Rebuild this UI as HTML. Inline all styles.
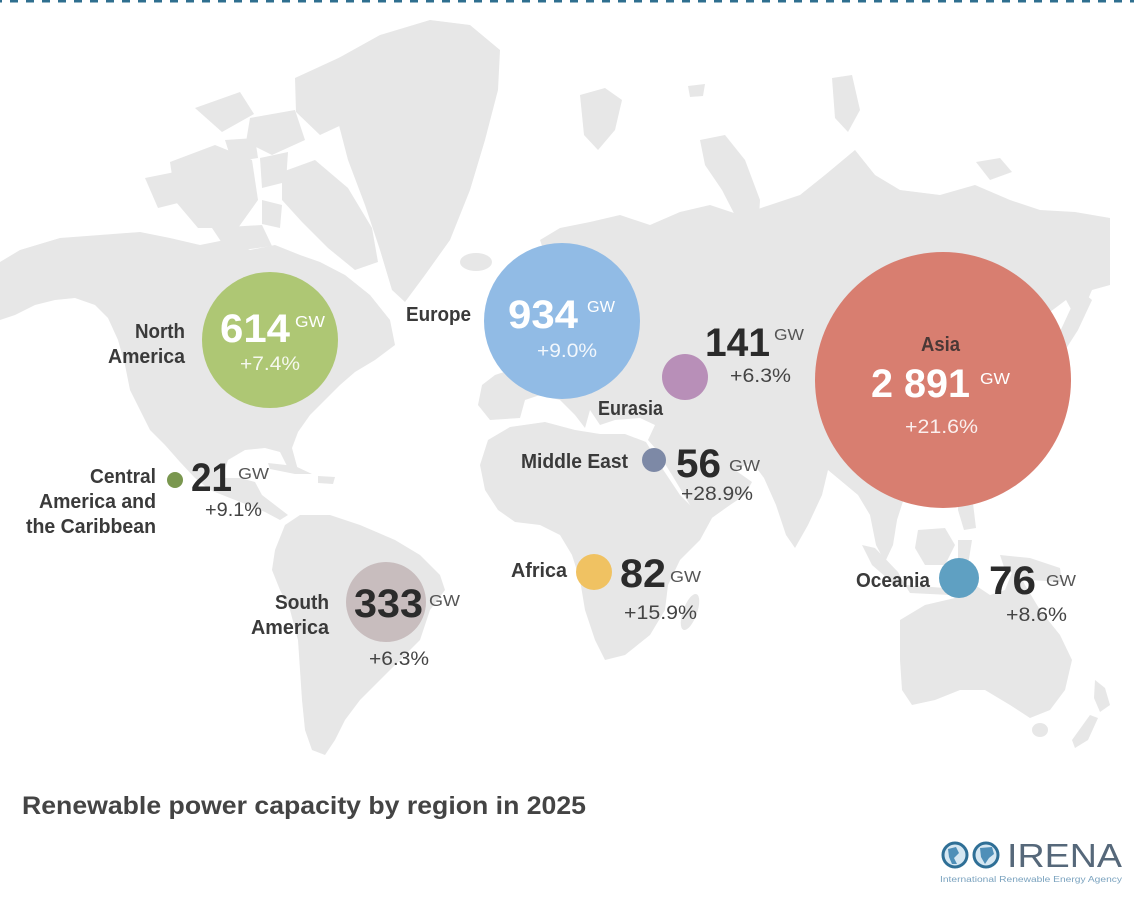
<!DOCTYPE html>
<html>
<head>
<meta charset="utf-8">
<style>
html,body{margin:0;padding:0;background:#fff;}
body{width:1134px;height:916px;overflow:hidden;}
svg{display:block;}
text{font-family:"Liberation Sans",Arial,sans-serif;}
.lbl{font-weight:bold;font-size:20px;fill:#3a3a3a;}
.num{font-weight:bold;font-size:40px;fill:#2b2b2b;}
.gw{font-size:16px;fill:#555;}
.pct{font-size:19px;fill:#444;}
.w{fill:#fff;}
.wp{fill:#fff;fill-opacity:0.88;}
</style>
</head>
<body>
<svg width="1134" height="916" viewBox="0 0 1134 916" xmlns="http://www.w3.org/2000/svg">
<rect width="1134" height="916" fill="#fff"/>
<line x1="0" y1="1" x2="1134" y2="1" stroke="#2f6f8f" stroke-width="3" stroke-dasharray="8 8" stroke-dashoffset="6"/>

<g fill="#e7e7e7">
  <!-- North America -->
  <path d="M0,262 L20,250 L60,238 L100,235 L140,232 L170,238 L200,245 L225,240 L250,250 L275,245 L300,255 L320,262 L345,275 L370,295 L390,320 L395,345 L375,360 L355,372 L340,385 L325,400 L310,415 L298,432 L292,448 L298,470 L290,472 L280,452 L265,448 L245,450 L228,460 L222,478 L240,478 L255,482 L262,495 L275,505 L288,515 L280,520 L265,512 L248,505 L230,498 L210,490 L195,478 L180,462 L165,445 L150,430 L140,410 L130,390 L125,365 L118,340 L108,318 L95,305 L75,298 L55,300 L35,305 L15,315 L0,320 Z"/>
  <!-- Arctic archipelago -->
  <path d="M295,78 L345,55 L390,40 L412,45 L398,72 L368,98 L348,122 L320,135 L296,112 Z"/>
  <path d="M282,172 L315,160 L348,188 L372,228 L378,262 L355,270 L328,248 L302,222 L282,200 Z"/>
  <path d="M170,162 L215,145 L252,160 L258,200 L238,228 L198,228 L176,202 Z"/>
  <path d="M250,118 L295,110 L305,140 L272,155 L246,142 Z"/>
  <path d="M195,108 L240,92 L254,114 L222,132 Z"/>
  <path d="M145,178 L175,172 L182,202 L158,208 Z"/>
  <path d="M260,158 L288,152 L286,182 L262,188 Z"/>
  <path d="M212,228 L262,225 L272,246 L228,252 Z"/>
  <path d="M225,140 L255,138 L258,158 L232,162 Z"/>
  <path d="M262,200 L282,205 L280,228 L262,224 Z"/>
  <!-- Greenland -->
  <path d="M335,60 L380,35 L430,20 L470,25 L500,50 L498,90 L485,140 L470,190 L450,240 L425,275 L405,302 L392,290 L380,250 L365,205 L348,160 L335,110 Z"/>
  <!-- Iceland -->
  <ellipse cx="476" cy="262" rx="16" ry="9"/>
  <!-- Caribbean -->
  <path d="M268,463 L295,466 L312,474 L295,474 L270,469 Z"/>
  <path d="M318,476 L335,477 L333,484 L318,483 Z"/>
  <!-- South America -->
  <path d="M285,525 L300,515 L330,515 L360,525 L395,540 L420,555 L440,575 L445,590 L430,610 L420,640 L400,660 L380,680 L360,700 L345,720 L335,740 L325,755 L312,750 L305,730 L302,700 L300,670 L298,640 L290,610 L280,590 L272,570 L275,550 Z"/>
  <!-- Eurasia -->
  <path d="M540,240 L560,228 L590,222 L620,215 L650,225 L680,212 L710,205 L740,215 L770,205 L800,195 L825,175 L855,150 L875,175 L900,190 L940,195 L975,185 L1010,200 L1040,210 L1075,212 L1110,218 L1110,285 L1092,290 L1078,322 L1066,300 L1050,312 L1058,340 L1050,380 L1040,420 L1010,450 L990,480 L960,500 L920,505 L905,495 L897,520 L893,545 L885,562 L876,545 L870,515 L858,495 L840,480 L828,470 L822,495 L808,525 L795,548 L786,535 L776,505 L764,478 L752,462 L735,470 L752,482 L745,495 L730,505 L702,525 L690,505 L672,475 L655,448 L648,440 L655,425 L640,418 L615,420 L600,425 L590,410 L585,428 L575,415 L560,400 L540,395 L525,400 L520,418 L490,420 L478,405 L482,385 L495,375 L510,370 L500,355 L515,345 L525,330 L540,318 L535,300 L530,280 L545,255 Z"/>
  <!-- Arctic Eurasian islands -->
  <path d="M580,95 L605,88 L622,100 L615,130 L598,150 L584,135 Z"/>
  <path d="M688,86 L705,84 L703,96 L690,97 Z"/>
  <path d="M700,140 L725,135 L745,160 L760,200 L758,232 L740,225 L722,190 L705,165 Z"/>
  <path d="M832,78 L852,75 L860,110 L848,132 L835,118 Z"/>
  <path d="M976,162 L1000,158 L1012,172 L990,180 Z"/>
  <!-- Japan -->
  <path d="M1080,290 L1092,300 L1078,330 L1062,355 L1046,372 L1040,362 L1058,336 L1070,310 Z"/>
  <!-- Philippines -->
  <path d="M958,492 L972,495 L976,528 L964,530 L958,510 Z"/>
  <!-- Africa -->
  <path d="M488,440 L510,427 L545,422 L575,430 L600,434 L625,434 L646,442 L660,465 L680,495 L700,515 L712,518 L700,540 L680,560 L668,585 L665,610 L650,635 L625,655 L605,660 L595,640 L585,610 L580,580 L572,555 L560,535 L540,525 L515,522 L498,510 L485,490 L480,465 Z"/>
  <ellipse cx="690" cy="612" rx="7" ry="19" transform="rotate(20 690 612)"/>
  <!-- Indonesia -->
  <path d="M862,545 L875,548 L898,572 L905,585 L895,585 L872,565 Z"/>
  <path d="M918,530 L945,528 L955,545 L945,565 L925,565 L915,548 Z"/>
  <path d="M905,585 L945,588 L950,595 L910,593 Z"/>
  <path d="M958,540 L972,540 L968,565 L958,570 Z"/>
  <path d="M1000,555 L1030,558 L1060,568 L1062,582 L1030,580 L1005,570 Z"/>
  <!-- Australia -->
  <path d="M900,620 L925,605 L955,598 L975,585 L990,595 L1005,590 L1015,565 L1025,585 L1040,610 L1060,635 L1072,660 L1065,690 L1050,710 L1030,718 L1010,705 L985,690 L960,690 L935,700 L912,705 L902,690 L900,660 Z"/>
  <ellipse cx="1040" cy="730" rx="8" ry="7"/>
  <!-- New Zealand -->
  <path d="M1095,680 L1105,688 L1110,705 L1100,712 L1094,698 Z"/>
  <path d="M1090,715 L1098,718 L1088,740 L1075,748 L1072,740 Z"/>
</g>

<!-- Bubbles -->
<circle cx="270" cy="340" r="68" fill="#abc56f" fill-opacity="0.97"/>
<circle cx="562" cy="321" r="78" fill="#8db9e4" fill-opacity="0.97"/>
<circle cx="943" cy="380" r="128" fill="#d77a6b" fill-opacity="0.97"/>
<circle cx="685" cy="377" r="23" fill="#b88fb8"/>
<circle cx="654" cy="460" r="12" fill="#7d89a6"/>
<circle cx="594" cy="572" r="18" fill="#f0c262"/>
<circle cx="959" cy="578" r="20" fill="#5fa0c2"/>
<circle cx="386" cy="602" r="40" fill="#c8bdbe"/>
<circle cx="175" cy="480" r="8" fill="#7a974f"/>

<!-- North America -->
<text class="lbl" x="185" y="338" text-anchor="end" textLength="50" lengthAdjust="spacingAndGlyphs">North</text>
<text class="lbl" x="185" y="363" text-anchor="end" textLength="77" lengthAdjust="spacingAndGlyphs">America</text>
<text class="num w" x="220" y="342" textLength="70" lengthAdjust="spacingAndGlyphs">614</text>
<text class="gw w" x="295" y="327" textLength="30" lengthAdjust="spacingAndGlyphs">GW</text>
<text class="pct wp" x="240" y="370" textLength="60" lengthAdjust="spacingAndGlyphs">+7.4%</text>

<!-- Europe -->
<text class="lbl" x="406" y="321" textLength="65" lengthAdjust="spacingAndGlyphs">Europe</text>
<text class="num w" x="508" y="328" textLength="70" lengthAdjust="spacingAndGlyphs">934</text>
<text class="gw w" x="587" y="312" textLength="28" lengthAdjust="spacingAndGlyphs">GW</text>
<text class="pct wp" x="537" y="357" textLength="60" lengthAdjust="spacingAndGlyphs">+9.0%</text>

<!-- Eurasia -->
<text class="num" x="705" y="356" textLength="65" lengthAdjust="spacingAndGlyphs">141</text>
<text class="gw" x="774" y="340" textLength="30" lengthAdjust="spacingAndGlyphs">GW</text>
<text class="pct" x="730" y="382" textLength="61" lengthAdjust="spacingAndGlyphs">+6.3%</text>
<text class="lbl" x="598" y="415" textLength="65" lengthAdjust="spacingAndGlyphs">Eurasia</text>

<!-- Middle East -->
<text class="lbl" x="521" y="468" textLength="107" lengthAdjust="spacingAndGlyphs">Middle East</text>
<text class="num" x="676" y="477" textLength="45" lengthAdjust="spacingAndGlyphs">56</text>
<text class="gw" x="729" y="471" font-size="17" textLength="31" lengthAdjust="spacingAndGlyphs">GW</text>
<text class="pct" x="681" y="500" textLength="72" lengthAdjust="spacingAndGlyphs">+28.9%</text>

<!-- Africa -->
<text class="lbl" x="511" y="577" textLength="56" lengthAdjust="spacingAndGlyphs">Africa</text>
<text class="num" x="620" y="587" textLength="46" lengthAdjust="spacingAndGlyphs">82</text>
<text class="gw" x="670" y="582" font-size="17" textLength="31" lengthAdjust="spacingAndGlyphs">GW</text>
<text class="pct" x="624" y="619" textLength="73" lengthAdjust="spacingAndGlyphs">+15.9%</text>

<!-- Asia -->
<text class="lbl" x="921" y="351" style="fill:#4a3836" textLength="39" lengthAdjust="spacingAndGlyphs">Asia</text>
<text class="num w" x="871" y="397" textLength="99" lengthAdjust="spacingAndGlyphs">2 891</text>
<text class="gw w" x="980" y="384" textLength="30" lengthAdjust="spacingAndGlyphs">GW</text>
<text class="pct wp" x="905" y="433" textLength="73" lengthAdjust="spacingAndGlyphs">+21.6%</text>

<!-- Oceania -->
<text class="lbl" x="856" y="587" textLength="74" lengthAdjust="spacingAndGlyphs">Oceania</text>
<text class="num" x="989" y="594" textLength="47" lengthAdjust="spacingAndGlyphs">76</text>
<text class="gw" x="1046" y="586" font-size="17" textLength="30" lengthAdjust="spacingAndGlyphs">GW</text>
<text class="pct" x="1006" y="621" textLength="61" lengthAdjust="spacingAndGlyphs">+8.6%</text>

<!-- Central America -->
<text class="lbl" x="156" y="483" text-anchor="end" textLength="66" lengthAdjust="spacingAndGlyphs">Central</text>
<text class="lbl" x="156" y="508" text-anchor="end" textLength="117" lengthAdjust="spacingAndGlyphs">America and</text>
<text class="lbl" x="156" y="533" text-anchor="end" textLength="130" lengthAdjust="spacingAndGlyphs">the Caribbean</text>
<text class="num" x="191" y="491" textLength="41" lengthAdjust="spacingAndGlyphs">21</text>
<text class="gw" x="238" y="479" font-size="17" textLength="31" lengthAdjust="spacingAndGlyphs">GW</text>
<text class="pct" x="205" y="516" textLength="57" lengthAdjust="spacingAndGlyphs">+9.1%</text>

<!-- South America -->
<text class="lbl" x="329" y="609" text-anchor="end" textLength="54" lengthAdjust="spacingAndGlyphs">South</text>
<text class="lbl" x="329" y="634" text-anchor="end" textLength="78" lengthAdjust="spacingAndGlyphs">America</text>
<text class="num" x="354" y="617" textLength="69" lengthAdjust="spacingAndGlyphs">333</text>
<text class="gw" x="429" y="606" font-size="17" textLength="31" lengthAdjust="spacingAndGlyphs">GW</text>
<text class="pct" x="369" y="665" textLength="60" lengthAdjust="spacingAndGlyphs">+6.3%</text>

<!-- Title -->
<text x="22" y="814" font-weight="bold" font-size="25" fill="#444" textLength="564" lengthAdjust="spacingAndGlyphs">Renewable power capacity by region in 2025</text>

<!-- IRENA logo -->
<g>
  <circle cx="955" cy="855" r="12" fill="#d6e7f2" stroke="#2f6f96" stroke-width="3"/>
  <circle cx="986" cy="855" r="12" fill="#d6e7f2" stroke="#2f6f96" stroke-width="3"/>
  <path d="M948,849 L956,847 L959,853 L954,858 L957,864 L952,864 L949,857 Z" fill="#4f8fb8"/>
  <path d="M980,848 L992,847 L994,854 L989,858 L985,864 L981,857 Z" fill="#4f8fb8"/>
  <text x="1007" y="867" font-size="33" fill="#56687a" textLength="115" lengthAdjust="spacingAndGlyphs">IRENA</text>
  <text x="940" y="882" font-size="8" fill="#7ba3bf" textLength="182" lengthAdjust="spacingAndGlyphs">International Renewable Energy Agency</text>
</g>
</svg>
</body>
</html>
